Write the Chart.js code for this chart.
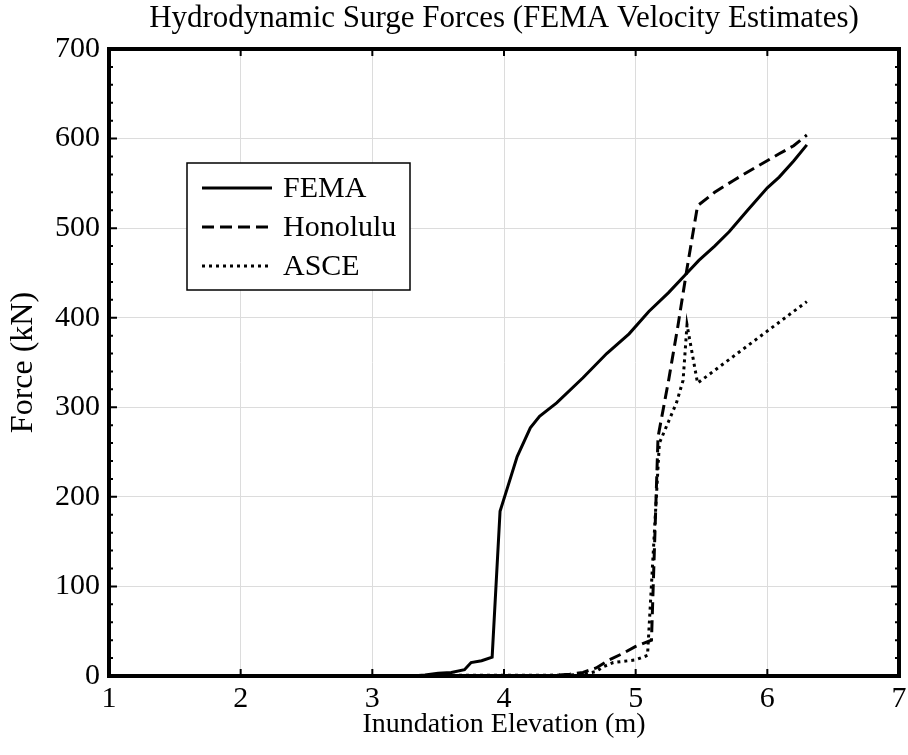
<!DOCTYPE html>
<html>
<head>
<meta charset="utf-8">
<script src="https://cdn.jsdelivr.net/npm/chart.js@4.4.0/dist/chart.umd.min.js"></script>
<style>
  html, body { margin: 0; padding: 0; background: #fff; }
  #wrap { width: 908px; height: 755px; }
</style>
</head>
<body>
<div id="wrap"><canvas id="myChart" width="908" height="755"></canvas></div>
<script>
// values
const femaX = [1, 3.3, 3.4, 3.5, 3.6, 3.7, 3.75, 3.83, 3.91, 3.97, 4.03, 4.1, 4.2, 4.27, 4.4, 4.6, 4.78, 4.95, 5.1, 5.25, 5.39, 5.48, 5.6, 5.71, 5.85, 6.0, 6.09, 6.2, 6.3];
const femaY = [0, 0, 1, 3, 4, 7, 15, 17, 21, 184, 212, 245, 277, 290, 305, 333, 360, 382, 407, 428, 450, 464, 480, 496, 520, 545, 557, 575, 593];

const honoX = [1, 4.3, 4.4, 4.5, 4.6, 4.7, 4.8, 4.9, 5.0, 5.12, 5.17, 5.25, 5.32, 5.39, 5.47, 5.6, 5.74, 5.9, 6.09, 6.2, 6.3];
const honoY = [0, 0, 1, 2, 4, 9, 18, 25, 33, 40, 267, 330, 390, 455, 525, 540, 553, 567, 583, 592, 604];

const asceX = [1, 4.5, 4.6, 4.7, 4.75, 4.83, 5.0, 5.09, 5.18, 5.31, 5.36, 5.39, 5.47, 6.3];
const asceY = [0, 1, 2, 5, 10, 15, 18, 23, 260, 305, 330, 392, 327, 418];

const xTicks = [1, 2, 3, 4, 5, 6, 7];
const yTicks = [0, 100, 200, 300, 400, 500, 600, 700];

const FONT = "'Liberation Serif', 'Times New Roman', serif";

const toPoints = (xs, ys) => xs.map((x, i) => ({ x: x, y: ys[i] }));

// frame, inward ticks (both sides) and the in-plot legend
const framePlugin = {
  id: "frame",
  afterDatasetsDraw(chart) {
    const ctx = chart.ctx;
    const a = chart.chartArea;
    const xs = chart.scales.x;
    const ys = chart.scales.y;
    ctx.save();
    ctx.strokeStyle = "#000";
    // ticks
    ctx.lineWidth = 2;
    xTicks.forEach((v) => {
      const px = xs.getPixelForValue(v);
      ctx.beginPath();
      ctx.moveTo(px, a.bottom); ctx.lineTo(px, a.bottom - 7);
      ctx.moveTo(px, a.top); ctx.lineTo(px, a.top + 7);
      ctx.stroke();
    });
    for (let v = 0; v <= 700; v += 20) {
      const py = ys.getPixelForValue(v);
      const len = v % 100 === 0 ? 8 : 4;
      ctx.beginPath();
      ctx.moveTo(a.left, py); ctx.lineTo(a.left + len, py);
      ctx.moveTo(a.right, py); ctx.lineTo(a.right - len, py);
      ctx.stroke();
    }
    // frame
    ctx.lineWidth = 4;
    ctx.strokeRect(a.left, a.top, a.right - a.left, a.bottom - a.top);

    // legend
    const lx = a.left + 78, ly = a.top + 114, lw = 223, lh = 127;
    ctx.fillStyle = "#fff";
    ctx.fillRect(lx, ly, lw, lh);
    ctx.lineWidth = 1.5;
    ctx.strokeRect(lx, ly, lw, lh);
    ctx.font = "30px " + FONT;
    ctx.textBaseline = "middle";
    chart.data.datasets.forEach((ds, i) => {
      const cy = ly + 25 + i * 39;
      ctx.beginPath();
      ctx.setLineDash(ds.borderDash || []);
      ctx.lineWidth = ds.borderWidth;
      ctx.strokeStyle = ds.borderColor;
      ctx.moveTo(lx + 15, cy); ctx.lineTo(lx + 85, cy);
      ctx.stroke();
      ctx.setLineDash([]);
      ctx.fillStyle = "#000";
      ctx.fillText(ds.label, lx + 96, cy + 1);
    });
    ctx.restore();
  },
};

const ctx = document.getElementById("myChart").getContext("2d");
new Chart(ctx, {
  type: "line",
  data: {
    datasets: [
      {
        label: "FEMA",
        data: toPoints(femaX, femaY),
        borderColor: "#000",
        borderWidth: 3,
        pointRadius: 0,
        tension: 0,
      },
      {
        label: "Honolulu",
        data: toPoints(honoX, honoY),
        borderColor: "#000",
        borderWidth: 3,
        borderDash: [12, 6],
        pointRadius: 0,
        tension: 0,
      },
      {
        label: "ASCE",
        data: toPoints(asceX, asceY),
        borderColor: "#000",
        borderWidth: 3,
        borderDash: [3, 4],
        pointRadius: 0,
        tension: 0,
      },
    ],
  },
  options: {
    responsive: false,
    animation: false,
    layout: { padding: { left: 0, right: 9, top: 0, bottom: 0 } },
    plugins: {
      legend: { display: false },
      tooltip: { enabled: false },
      title: {
        display: true,
        fullSize: false,
        text: "Hydrodynamic Surge Forces (FEMA Velocity Estimates)",
        color: "#000",
        font: { family: FONT, size: 31, weight: "normal", lineHeight: 1.2 },
        padding: { top: 0, bottom: 11.8 },
      },
    },
    scales: {
      x: {
        type: "linear",
        min: 1,
        max: 7,
        afterBuildTicks: (s) => { s.ticks = xTicks.map((v) => ({ value: v })); },
        afterFit: (s) => { s.height = 79; s.paddingLeft = 0; s.paddingRight = 0; },
        border: { display: false },
        grid: { color: "#dcdcdc", lineWidth: 1, drawTicks: false },
        ticks: { color: "#000", padding: 5, maxRotation: 0, font: { family: FONT, size: 30 } },
        title: {
          display: true,
          text: "Inundation Elevation (m)",
          color: "#000",
          font: { family: FONT, size: 28, lineHeight: 1.2 },
          padding: { top: 0, bottom: 14 },
        },
      },
      y: {
        type: "linear",
        min: 0,
        max: 700,
        afterBuildTicks: (s) => { s.ticks = yTicks.map((v) => ({ value: v })); },
        afterFit: (s) => { s.width = 109; s.paddingTop = 0; s.paddingBottom = 0; },
        border: { display: false },
        grid: { color: "#dcdcdc", lineWidth: 1, drawTicks: false },
        ticks: { color: "#000", padding: 9, font: { family: FONT, size: 30 } },
        title: {
          display: true,
          text: "Force (kN)",
          color: "#000",
          font: { family: FONT, size: 32, lineHeight: 1.2 },
          padding: { top: 4, bottom: 0 },
        },
      },
    },
  },
  plugins: [framePlugin],
});
</script>
</body>
</html>
